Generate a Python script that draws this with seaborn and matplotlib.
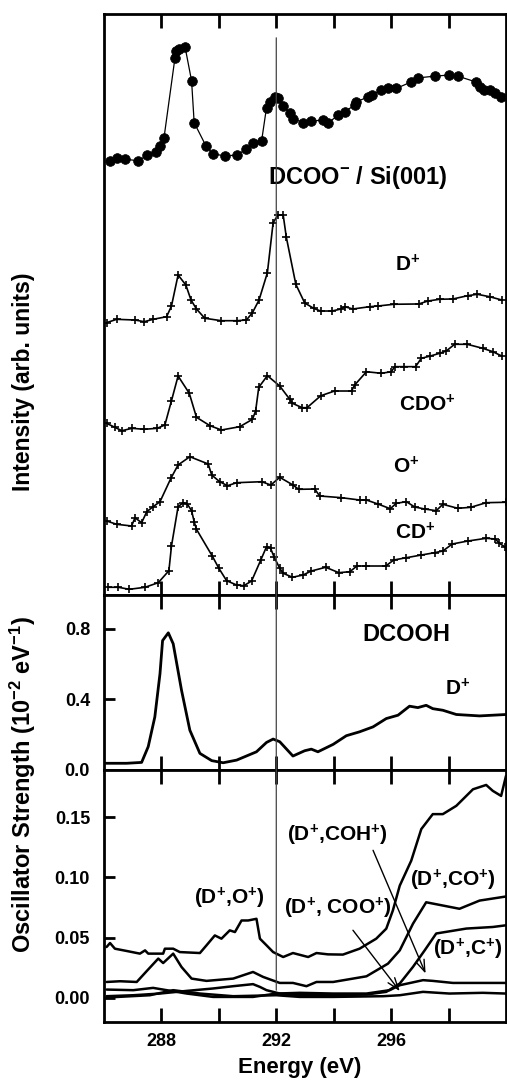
import numpy as np
import pandas as pd
import matplotlib
matplotlib.use("Agg")
import matplotlib.pyplot as plt
import seaborn as sns
from matplotlib.patches import ConnectionPatch

# ---------------- data ----------------
# Top panel (arbitrary intensity units, stacked)
e_dcoo = [286.21, 286.44, 286.73, 287.19, 287.51, 287.80, 287.95, 288.09, 288.47, 288.50, 288.62, 288.82,
          289.05, 289.14, 289.55, 289.80, 290.21, 290.62, 290.94, 291.19, 291.49, 291.66, 291.77, 291.95,
          292.06, 292.24, 292.47, 292.58, 292.93, 293.22, 293.61, 293.80, 294.15, 294.38, 294.73, 294.79,
          295.19, 295.35, 295.66, 295.89, 296.18, 296.70, 296.93, 297.51, 298.03, 298.32, 298.96, 299.08,
          299.25, 299.43, 299.60, 299.83]
i_dcoo = [74.75, 75.3, 75.0, 74.75, 75.7, 76.3, 77.2, 78.7, 92.4, 93.7, 93.9, 94.4,
          88.5, 81.3, 77.3, 75.9, 75.6, 75.7, 76.7, 77.8, 78.2, 83.9, 84.9, 85.8,
          85.6, 84.2, 82.9, 82.0, 81.3, 81.5, 81.8, 81.2, 82.6, 83.2, 84.3, 84.9,
          85.7, 86.1, 86.9, 87.2, 87.2, 88.3, 89.0, 89.3, 89.5, 89.3, 88.3, 87.4,
          87.0, 86.9, 86.4, 85.8]

e_dp = [286.09, 286.44, 287.08, 287.40, 287.71, 288.18, 288.35, 288.58, 288.85, 289.03, 289.22, 289.51,
        290.09, 290.62, 290.96, 291.17, 291.40, 291.69, 291.89, 292.06, 292.24, 292.35, 292.68, 292.99,
        293.30, 293.54, 293.94, 294.26, 294.38, 294.67, 295.25, 295.54, 296.09, 296.96, 297.28, 297.69,
        298.15, 298.67, 299.00, 299.43, 299.85]
i_dp = [46.87, 47.45, 47.33, 47.04, 47.45, 47.90, 49.74, 55.08, 53.36, 50.78, 49.23, 47.63,
        47.21, 47.21, 47.33, 48.59, 50.78, 55.47, 64.08, 65.41, 65.41, 61.57, 53.48, 50.26,
        49.35, 48.88, 48.88, 49.23, 49.62, 49.23, 49.62, 49.74, 50.04, 50.09, 50.60, 50.90,
        50.95, 51.52, 51.76, 51.34, 50.78]

e_cdo = [286.09, 286.38, 286.62, 286.98, 287.40, 287.85, 288.12, 288.35, 288.58, 288.97, 289.22, 289.69,
         290.09, 290.73, 291.17, 291.28, 291.39, 291.69, 292.12, 292.47, 292.56, 292.90, 293.07, 293.55,
         294.03, 294.62, 294.73, 295.14, 295.66, 296.01, 296.12, 296.45, 296.85, 297.05, 297.37, 297.69,
         297.92, 298.21, 298.65, 299.19, 299.54, 299.85]
i_cdo = [29.55, 28.86, 28.28, 28.69, 28.52, 28.69, 29.26, 33.44, 37.69, 34.72, 30.59, 29.14,
         28.40, 28.97, 30.24, 31.67, 35.75, 37.75, 35.97, 33.68, 33.00, 32.24, 32.24, 34.30,
         35.11, 35.11, 36.14, 38.43, 38.16, 38.43, 39.30, 39.30, 39.30, 40.74, 41.14, 41.60,
         42.00, 43.15, 43.15, 42.46, 41.88, 41.14]

e_op = [286.09, 286.44, 286.96, 287.08, 287.31, 287.49, 287.71, 287.95, 288.33, 288.58, 288.99, 289.63,
        289.75, 290.03, 290.30, 290.62, 291.49, 291.81, 292.12, 292.58, 292.78, 293.34, 293.51, 294.27,
        294.90, 295.14, 295.54, 295.97, 296.18, 296.53, 296.82, 297.17, 297.57, 297.80, 298.32, 298.77,
        299.31, 300.00]
i_op = [12.74, 12.17, 11.88, 13.30, 12.44, 14.34, 15.20, 16.06, 20.09, 22.38, 23.80, 22.55,
        20.65, 19.50, 18.81, 19.33, 19.50, 18.93, 20.26, 18.93, 18.19, 18.24, 17.04, 16.75,
        16.35, 16.35, 15.66, 14.85, 15.78, 16.06, 15.15, 14.80, 14.51, 15.61, 14.92, 15.09,
        15.89, 15.96]

e_cd = [286.15, 286.50, 286.88, 287.43, 287.89, 288.26, 288.35, 288.58, 288.76, 288.90, 289.05, 289.14,
        289.22, 289.77, 290.00, 290.27, 290.62, 290.87, 291.14, 291.46, 291.66, 291.80, 291.92, 292.12,
        292.24, 292.56, 292.93, 293.22, 293.72, 294.18, 294.56, 294.81, 295.14, 295.81, 296.09, 296.53,
        297.05, 297.51, 297.80, 298.13, 298.67, 299.31, 299.63, 299.77, 299.95]
i_cd = [1.33, 1.33, 0.98, 1.33, 2.12, 4.18, 8.43, 15.20, 15.89, 15.66, 14.51, 12.62,
        11.31, 6.71, 4.60, 2.46, 1.72, 1.60, 2.41, 6.02, 8.31, 8.04, 6.59, 4.60,
        3.74, 3.05, 3.44, 4.13, 4.77, 3.84, 4.01, 4.99, 4.99, 4.99, 6.02, 6.42,
        6.88, 7.28, 7.57, 8.78, 9.29, 9.76, 9.64, 8.90, 8.31]

# Middle panel: DCOOH, D+ oscillator strength (1e-2 / eV)
e_gas = [286.07, 286.79, 287.31, 287.54, 287.77, 287.95, 288.04, 288.24, 288.41, 288.70, 288.99, 289.34,
         289.75, 290.15, 290.62, 291.31, 291.66, 291.89, 292.12, 292.58, 292.99, 293.22, 293.45, 293.98,
         294.44, 294.90, 295.37, 295.83, 296.24, 296.64, 296.93, 297.22, 297.45, 297.80, 298.27, 299.08,
         300.00]
f_gas = [0.038, 0.038, 0.043, 0.132, 0.300, 0.545, 0.732, 0.776, 0.714, 0.451, 0.225, 0.094,
         0.053, 0.041, 0.056, 0.103, 0.156, 0.175, 0.160, 0.079, 0.109, 0.118, 0.103, 0.145,
         0.194, 0.216, 0.244, 0.291, 0.310, 0.361, 0.353, 0.366, 0.347, 0.338, 0.314, 0.306,
         0.314]

# Bottom panel: coincidence oscillator strengths
e_do = [286.09, 286.21, 286.38, 286.79, 287.25, 287.43, 287.54, 288.06, 288.12, 288.41, 288.64, 289.34,
        289.57, 289.86, 290.09, 290.38, 290.56, 290.79, 291.02, 291.31, 291.43, 291.66, 291.89, 292.24,
        292.58, 293.11, 293.40, 293.80, 294.32, 294.90, 295.48, 295.83, 296.06, 296.30, 296.70, 297.05,
        297.45, 297.80, 298.27, 298.85, 299.31, 299.54, 299.83, 300.00]
f_do = [0.0422, 0.0455, 0.0408, 0.0389, 0.0367, 0.0394, 0.0367, 0.0367, 0.0408, 0.0408, 0.0380, 0.0372,
        0.0436, 0.0518, 0.0491, 0.0560, 0.0546, 0.0642, 0.0642, 0.0656, 0.0491, 0.0436, 0.0380, 0.0339,
        0.0372, 0.0339, 0.0372, 0.0361, 0.0359, 0.0408, 0.0491, 0.0574, 0.0725, 0.0931, 0.1138, 0.1400,
        0.1524, 0.1524, 0.1593, 0.1730, 0.1766, 0.1717, 0.1675, 0.1841]

e_dco = [286.09, 286.56, 287.14, 287.49, 287.89, 288.06, 288.41, 288.70, 289.05, 289.57, 290.50, 291.19,
         291.54, 292.12, 292.58, 293.05, 293.40, 293.98, 295.14, 295.89, 296.30, 296.76, 297.22, 297.80,
         298.38, 299.08, 300.00]
f_dco = [0.0132, 0.0138, 0.0132, 0.0223, 0.0326, 0.0289, 0.0367, 0.0256, 0.0160, 0.0141, 0.0160, 0.0215,
         0.0174, 0.0124, 0.0124, 0.0097, 0.0132, 0.0132, 0.0179, 0.0284, 0.0394, 0.0615, 0.0793, 0.0766,
         0.0739, 0.0807, 0.0841]

e_dc = [286.09, 287.02, 287.95, 288.88, 289.80, 290.50, 291.19, 291.43, 291.66, 292.12, 292.82, 293.98,
        295.14, 295.83, 296.30, 296.76, 297.17, 297.57, 298.62, 299.54, 300.00]
f_dc = [0.0014, 0.0022, 0.0036, 0.0058, 0.0078, 0.0097, 0.0114, 0.0091, 0.0064, 0.0036, 0.0022, 0.0022,
        0.0028, 0.0050, 0.0119, 0.0257, 0.0395, 0.0534, 0.0575, 0.0588, 0.0602]

e_dcoh = [286.09, 287.02, 287.71, 288.18, 288.88, 289.80, 291.19, 292.00, 292.82, 293.98, 295.14, 295.95,
          296.30, 297.11, 297.45, 298.15, 299.19, 300.00]
f_dcoh = [0.0069, 0.0064, 0.0083, 0.0064, 0.0036, 0.0008, 0.0008, 0.0036, 0.0042, 0.0036, 0.0036, 0.0064,
          0.0105, 0.0147, 0.0141, 0.0124, 0.0124, 0.0124]

e_dcoo2 = [286.09, 287.60, 288.41, 289.34, 290.50, 292.00, 292.82, 293.98, 295.72, 296.30, 297.11, 298.03,
           299.19, 300.00]
f_dcoo2 = [0.0003, 0.0022, 0.0064, 0.0036, 0.0014, 0.0022, 0.0008, 0.0008, 0.0014, 0.0022, 0.0050, 0.0036,
           0.0042, 0.0036]

x_ticks = [288, 290, 292, 294, 296, 298]
x_ticklabels = ["288", "", "292", "", "296", ""]
y2_ticks = [0.0, 0.4, 0.8]
y2_ticklabels = ["0.0", "0.4", "0.8"]
y3_ticks = [0.00, 0.05, 0.10, 0.15]
y3_ticklabels = ["0.00", "0.05", "0.10", "0.15"]

# ---------------- style ----------------
sns.set_theme(style="ticks")
plt.rcParams["font.family"] = ["Liberation Sans", "DejaVu Sans"]
plt.rcParams["font.weight"] = "bold"
for k in ["text.color", "axes.labelcolor", "xtick.color", "ytick.color", "axes.edgecolor"]:
    plt.rcParams[k] = "black"
plt.rcParams["mathtext.fontset"] = "custom"
plt.rcParams["mathtext.rm"] = "Liberation Sans:bold"
plt.rcParams["mathtext.bf"] = "Liberation Sans:bold"
plt.rcParams["mathtext.it"] = "Liberation Sans:bold"
plt.rcParams["mathtext.default"] = "bf"

fig = plt.figure(figsize=(5.07, 10.8), dpi=100)
L, W = 104 / 507, 402 / 507
ax1 = fig.add_axes([L, 1 - 595 / 1080, W, 581 / 1080])
ax2 = fig.add_axes([L, 1 - 770 / 1080, W, 175 / 1080])
ax3 = fig.add_axes([L, 1 - 1022 / 1080, W, 252 / 1080])

def line(ax, x, y, lw, **kw):
    df = pd.DataFrame({"x": x, "y": y})
    sns.lineplot(data=df, x="x", y="y", ax=ax, color="black", lw=lw,
                 estimator=None, sort=False, legend=False, **kw)

line(ax1, e_dcoo, i_dcoo, 0.9, marker="o", markersize=7, markeredgecolor="black",
     markerfacecolor="black", markeredgewidth=0.5)
for ex, iy in [(e_dp, i_dp), (e_cdo, i_cdo), (e_op, i_op), (e_cd, i_cd)]:
    line(ax1, ex, iy, 1.2, marker="+", markersize=5.5, markeredgecolor="black",
         markeredgewidth=1.2)

line(ax2, e_gas, f_gas, 2.0)
for ex, fy in [(e_do, f_do), (e_dco, f_dco), (e_dc, f_dc), (e_dcoh, f_dcoh), (e_dcoo2, f_dcoo2)]:
    line(ax3, ex, fy, 1.8)

for ax in (ax1, ax2, ax3):
    ax.set_xlim(286, 300)
    ax.set_xticks(x_ticks)
    ax.set_xlabel("")
    ax.set_ylabel("")
    for s in ax.spines.values():
        s.set_visible(True)
        s.set_linewidth(2)
        s.set_color("black")
    ax.tick_params(axis="x", direction="in", length=10, width=2, top=True, bottom=True,
                   labelbottom=False, colors="black")
    ax.tick_params(axis="y", direction="in", length=8, width=2, labelsize=13, pad=10,
                   colors="black")

ax1.set_ylim(0, 100)
ax1.set_yticks([])
ax2.set_ylim(0, 0.99)
ax2.set_yticks(y2_ticks)
ax2.set_yticklabels(y2_ticklabels, fontweight="bold")
ax3.set_ylim(-0.020, 0.189)
ax3.set_yticks(y3_ticks)
ax3.set_yticklabels(y3_ticklabels, fontweight="bold")
ax3.tick_params(axis="x", labelbottom=True, labelsize=13, pad=8)
ax3.set_xticklabels(x_ticklabels, fontweight="bold")

# vertical reference line through all panels
con = ConnectionPatch(xyA=(292.0, 95.9), coordsA=ax1.transData,
                      xyB=(292.0, 0.0064), coordsB=ax3.transData,
                      color="#444444", lw=0.9)
fig.add_artist(con)

# text labels
big = dict(fontsize=17, fontweight="bold", ha="center", va="center", color="black")
mid = dict(fontsize=15, fontweight="bold", ha="center", va="center", color="black")
ax1.text(294.83, 71.8, r"DCOO$^{-}$ / Si(001)", **big)
ax1.text(296.57, 56.8, r"D$^{+}$", **mid)
ax1.text(297.27, 32.7, r"CDO$^{+}$", **mid)
ax1.text(296.54, 22.0, r"O$^{+}$", **mid)
ax1.text(296.85, 10.7, r"CD$^{+}$", **mid)

ax2.text(296.54, 0.766, "DCOOH", **big)
ax2.text(298.31, 0.462, r"D$^{+}$", **mid)

ax3.text(290.35, 0.0827, r"(D$^{+}$,O$^{+}$)", **mid)
ax3.text(294.14, 0.135, r"(D$^{+}$,COH$^{+}$)", **mid)
ax3.text(298.14, 0.0976, r"(D$^{+}$,CO$^{+}$)", **mid)
ax3.text(294.14, 0.0744, r"(D$^{+}$, COO$^{+}$)", **mid)
ax3.text(298.66, 0.0404, r"(D$^{+}$,C$^{+}$)", **mid)

arrow = dict(arrowstyle="->,head_length=0.7,head_width=0.25", color="black", lw=1.0,
             shrinkA=0, shrinkB=0)
ax3.annotate("", xy=(297.2, 0.0202), xytext=(295.37, 0.1224), arrowprops=arrow)
ax3.annotate("", xy=(296.30, 0.0056), xytext=(294.67, 0.0561), arrowprops=arrow)

fig.text(24 / 507, 1 - 382 / 1080, "Intensity (arb. units)", rotation=90, fontsize=16.5,
         fontweight="bold", ha="center", va="center", color="black")
fig.text(23 / 507, 1 - 784 / 1080, r"Oscillator Strength (10$^{-2}$ eV$^{-1}$)", rotation=90,
         fontsize=17, fontweight="bold", ha="center", va="center", color="black")
fig.text(300 / 507, 1 - 1068 / 1080, "Energy (eV)", fontsize=16, fontweight="bold",
         ha="center", va="center", color="black")

fig.savefig("out.png", dpi=100)
